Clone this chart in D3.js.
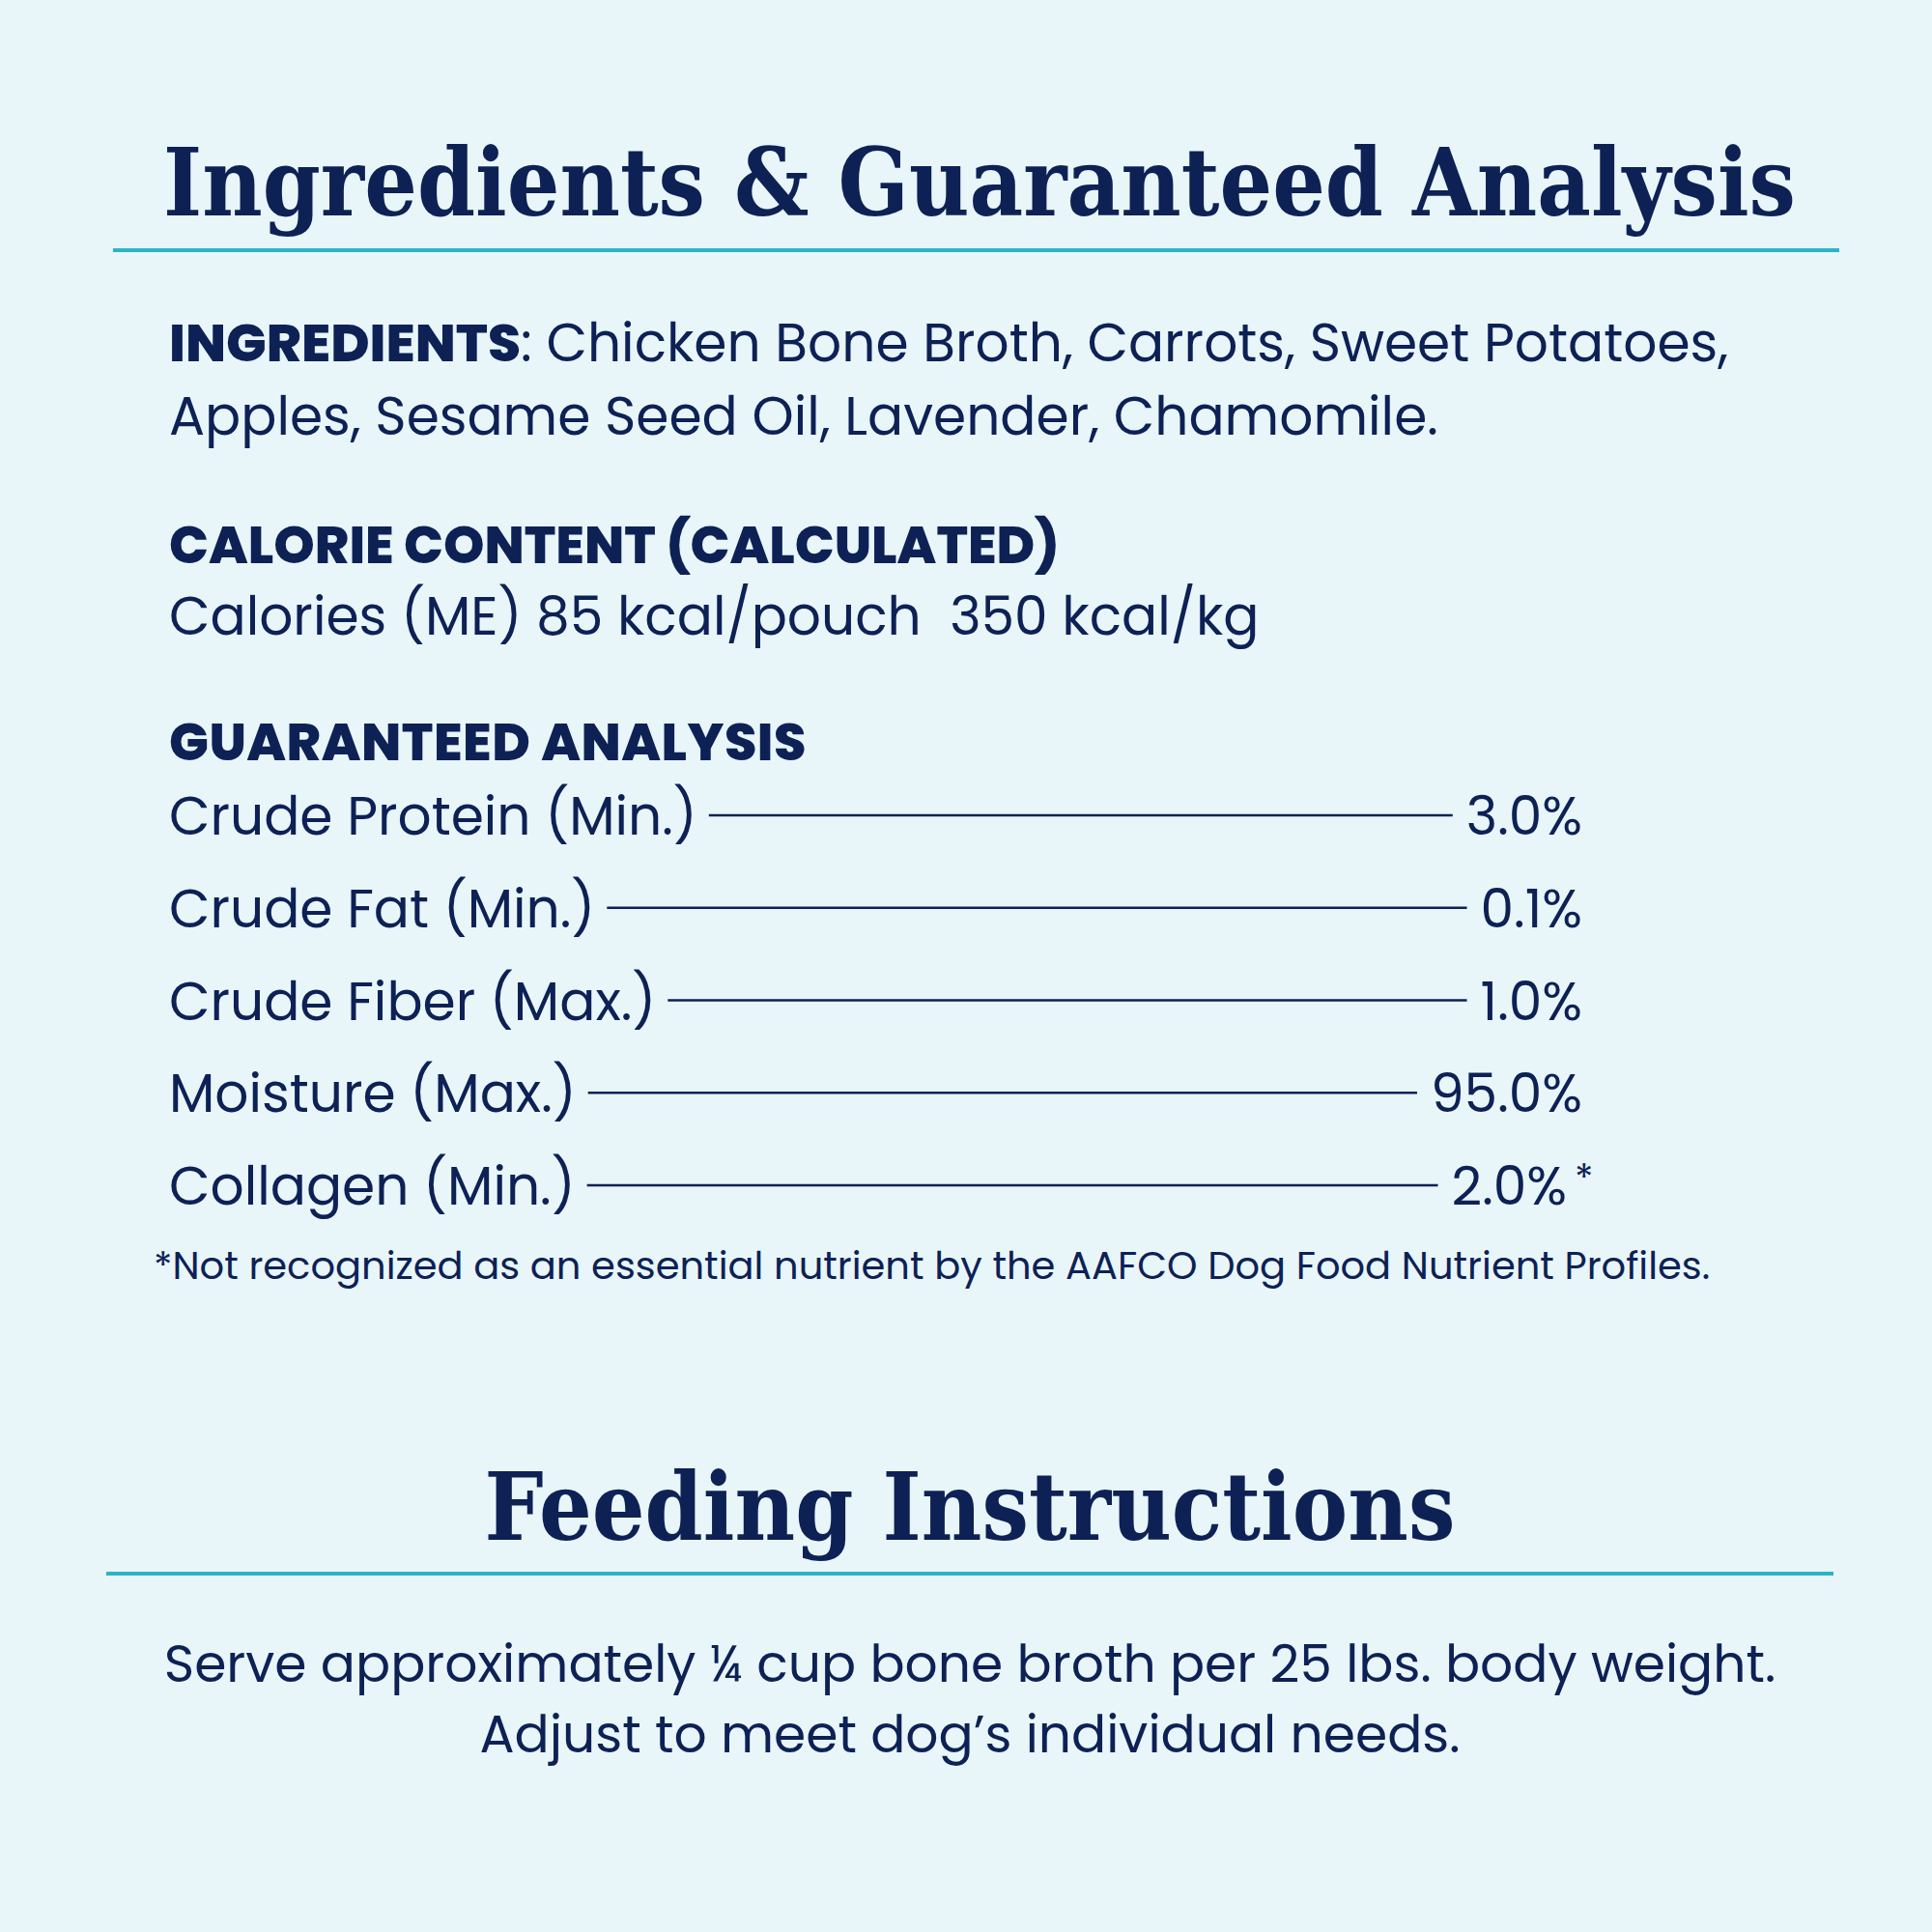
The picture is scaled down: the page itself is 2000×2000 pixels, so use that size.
<!DOCTYPE html>
<html><head><meta charset="utf-8">
<script src="https://cdn.jsdelivr.net/npm/d3@7"></script>
<style>body{margin:0;background:#e8f6fa}</style></head>
<body><script>
const title1 = "Ingredients & Guaranteed Analysis";
const title2 = "Feeding Instructions";
const ingredientLines = ["Chicken Bone Broth, Carrots, Sweet Potatoes,", "Apples, Sesame Seed Oil, Lavender, Chamomile."];
const calorieText = "Calories (ME) 85 kcal/pouch\u00a0\u00a0350 kcal/kg";
const nutrients = ["Crude Protein (Min.)", "Crude Fat (Min.)", "Crude Fiber (Max.)", "Moisture (Max.)", "Collagen (Min.)"];
const values = ["3.0%", "0.1%", "1.0%", "95.0%", "2.0%"];
const marks = ["", "", "", "", "*"];
const footnote = "*Not recognized as an essential nutrient by the AAFCO Dog Food Nutrient Profiles.";
const feeding = ["Serve approximately ¼ cup bone broth per 25 lbs. body weight.", "Adjust to meet dog’s individual needs."];

const W=2000,H=2000,navy="#0d2155",teal="#2bb5c4",sans="Poppins, 'Open Sans', sans-serif",serif="'DejaVu Serif', serif";
const svg=d3.select("body").append("svg").attr("width",W).attr("height",H);
svg.append("rect").attr("width",W).attr("height",H).attr("fill","#e8f6fa");
const t=(x,y,s,o={})=>svg.append("text").attr("x",x).attr("y",y).text(s).attr("fill",navy)
  .attr("font-family",o.f||sans).attr("font-size",o.size||55).attr("font-weight",o.w||400)
  .attr("text-anchor",o.a||"start");
t(1014,223,title1,{f:serif,size:98,w:900,a:"middle"}).attr("textLength",1690).attr("lengthAdjust","spacingAndGlyphs");
svg.append("line").attr("x1",117).attr("x2",1904).attr("y1",259).attr("y2",259).attr("stroke",teal).attr("stroke-width",4);
const ing=t(175,374,"",{size:55});
ing.append("tspan").attr("font-weight",800).text("INGREDIENTS");
ing.append("tspan").text(": "+ingredientLines[0]);
t(175,450,ingredientLines[1],{size:55});
t(175,583,"CALORIE CONTENT (CALCULATED)",{size:54,w:800}).attr("letter-spacing",0);
t(175,657,calorieText,{size:55});
t(175,787,"GUARANTEED ANALYSIS",{size:54,w:800}).attr("letter-spacing",0.5);
const y=d3.scalePoint().domain(nutrients).range([864,1247]);
const g=svg.selectAll("g.row").data(nutrients).join("g").attr("class","row");
g.each(function(d,i){
  const gg=d3.select(this), yy=y(d);
  const lab=gg.append("text").attr("x",175).attr("y",yy).text(d).attr("fill",navy).attr("font-family",sans).attr("font-size",55);
  const vx = marks[i] ? 1622 : 1638;
  const val=gg.append("text").attr("x",vx).attr("y",yy).attr("text-anchor","end").text(values[i]).attr("fill",navy).attr("font-family",sans).attr("font-size",55);
  if(marks[i]) gg.append("text").attr("x",vx+8).attr("y",yy-14).text(marks[i]).attr("fill",navy).attr("font-family",sans).attr("font-size",40);
  const lw=lab.node().getComputedTextLength(), vw=val.node().getComputedTextLength();
  gg.append("line").attr("x1",175+lw+12).attr("x2",vx-vw-14).attr("y1",yy-20).attr("y2",yy-20).attr("stroke",navy).attr("stroke-width",2.5);
});
t(159,1324,footnote,{size:40});
t(1004,1594,title2,{f:serif,size:98,w:900,a:"middle"}).attr("textLength",1005).attr("lengthAdjust","spacingAndGlyphs");
svg.append("line").attr("x1",110).attr("x2",1898).attr("y1",1629).attr("y2",1629).attr("stroke",teal).attr("stroke-width",4);
feeding.forEach((s,i)=>t(1004,1741+i*73,s,{size:53.5,a:"middle"}));
</script></body></html>
